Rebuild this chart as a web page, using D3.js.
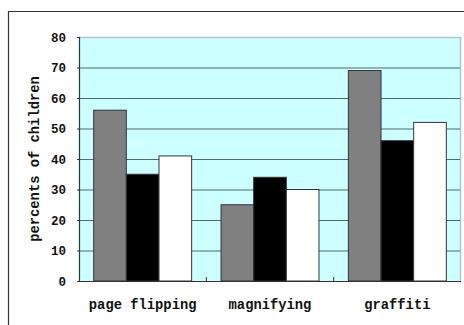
<!DOCTYPE html>
<html>
<head>
<meta charset="utf-8">
<script src="https://cdn.jsdelivr.net/npm/d3@7"></script>
<style>
  html, body { margin: 0; padding: 0; background: #fff; }
  svg { display: block; }
  text { font-family: "Liberation Mono", "Courier New", monospace; font-weight: bold; fill: #111; }
</style>
</head>
<body>
<svg id="chart" width="464" height="325"></svg>
<script>
// Activities and the share of children (per group) for each one
const categories = ["page flipping", "magnifying", "graffiti"];
const groupA = [56, 25, 69];   // grey bars
const groupB = [35, 34, 46];   // black bars
const groupC = [41, 30, 52];   // white bars
const yTicks = [0, 10, 20, 30, 40, 50, 60, 70, 80];
const yTitle = "percents of children";

const series = [
  { key: "a", values: groupA, fill: "#808080" },
  { key: "b", values: groupB, fill: "#000000" },
  { key: "c", values: groupC, fill: "#ffffff" }
];

const svg = d3.select("#chart");
const plot = { left: 79, top: 37, right: 461, bottom: 281 };

// Outer frame (top and left edges)
svg.append("path")
  .attr("d", "M8.5,325 L8.5,11.5 L464,11.5")
  .attr("fill", "none").attr("stroke", "#333").attr("stroke-width", 1.2);

const x = d3.scaleBand().domain(categories).range([plot.left, plot.right]).paddingInner(0).paddingOuter(0);
const xInner = d3.scaleBand().domain(series.map(s => s.key)).range([0, x.bandwidth()]).paddingInner(0).paddingOuter(0.45);
const y = d3.scaleLinear().domain([0, 80]).range([plot.bottom, plot.top]);

// Plot background
svg.append("rect")
  .attr("x", plot.left).attr("y", plot.top)
  .attr("width", plot.right - plot.left).attr("height", plot.bottom - plot.top)
  .attr("fill", "#ccffff");

// Light border on top and right of the plot area
svg.append("path")
  .attr("d", `M${plot.left},${plot.top + 0.5} L${plot.right - 0.5},${plot.top + 0.5} L${plot.right - 0.5},${plot.bottom}`)
  .attr("fill", "none").attr("stroke", "#b4c4c4").attr("stroke-width", 1.5);

// Horizontal gridlines
svg.append("g")
  .selectAll("line")
  .data(yTicks.filter(t => t > 0 && t < 80))
  .join("line")
  .attr("x1", plot.left).attr("x2", plot.right - 1)
  .attr("y1", d => y(d) + 0.5).attr("y2", d => y(d) + 0.5)
  .attr("stroke", "#4f6a6a").attr("stroke-width", 1);

// Bars
const groups = svg.append("g")
  .selectAll("g")
  .data(categories)
  .join("g")
  .attr("transform", d => `translate(${x(d)},0)`);

groups.selectAll("rect")
  .data((d, i) => series.map(s => ({ key: s.key, fill: s.fill, value: s.values[i] })))
  .join("rect")
  .attr("x", d => xInner(d.key))
  .attr("y", d => y(d.value))
  .attr("width", xInner.bandwidth())
  .attr("height", d => y(0) - y(d.value))
  .attr("fill", d => d.fill)
  .attr("stroke", "#333")
  .attr("stroke-width", 1);

// Y axis
const yAxis = svg.append("g")
  .attr("transform", `translate(${plot.left},0)`)
  .call(d3.axisLeft(y).tickValues(yTicks).tickSize(2).tickPadding(11));
yAxis.select(".domain").attr("stroke", "#333").attr("stroke-width", 1.2);
yAxis.selectAll(".tick line").attr("stroke", "#333");
yAxis.selectAll("text")
  .attr("font-family", "Liberation Mono, Courier New, monospace")
  .attr("font-weight", "bold").attr("font-size", 12.5).attr("fill", "#111");

// X axis with short inward ticks at the category boundaries
const xAxis = svg.append("g")
  .attr("transform", `translate(0,${plot.bottom})`);
xAxis.append("line")
  .attr("x1", plot.left).attr("x2", plot.right)
  .attr("y1", 0.5).attr("y2", 0.5)
  .attr("stroke", "#333").attr("stroke-width", 1.2);
xAxis.selectAll("line.sep")
  .data(categories.slice(1))
  .join("line")
  .attr("class", "sep")
  .attr("x1", d => x(d)).attr("x2", d => x(d))
  .attr("y1", 0).attr("y2", -4)
  .attr("stroke", "#333");
xAxis.selectAll("text")
  .data(categories)
  .join("text")
  .attr("x", d => x(d) + x.bandwidth() / 2)
  .attr("y", 28)
  .attr("text-anchor", "middle")
  .attr("font-size", 13.8)
  .text(d => d);

// Y axis title
svg.append("text")
  .attr("transform", `translate(39,${(plot.top + plot.bottom) / 2}) rotate(-90)`)
  .attr("text-anchor", "middle")
  .attr("font-size", 13.8)
  .text(yTitle);
</script>
</body>
</html>
